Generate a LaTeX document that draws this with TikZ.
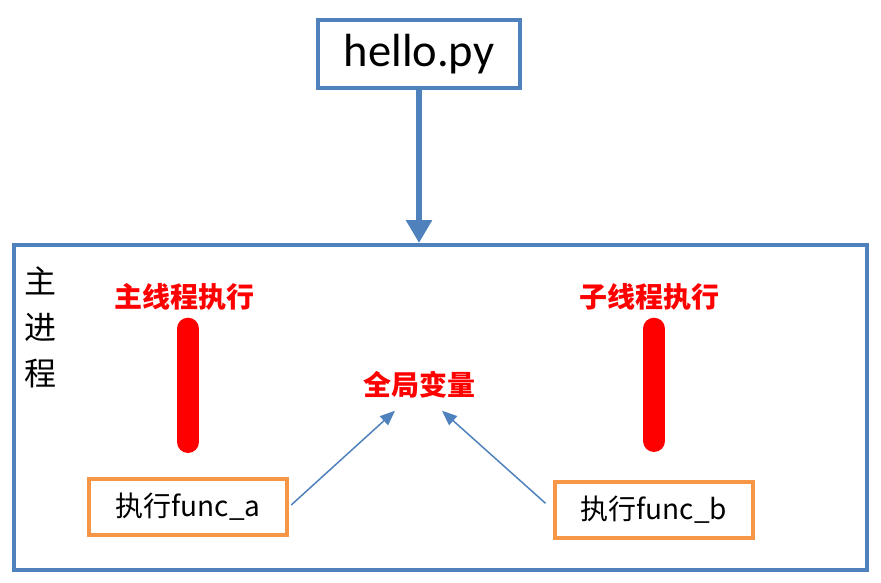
\documentclass[tikz,border=0pt]{standalone}
\usepackage{fontspec}
\setmainfont{Carlito}
\newfontfamily\cjk{Noto Sans CJK SC}
\usetikzlibrary{positioning,arrows.meta}
\definecolor{boxblue}{HTML}{4F81BD}
\definecolor{boxorange}{HTML}{F79646}

\begin{document}
\begin{tikzpicture}[x=1pt, y=-1pt,
    filebox/.style={draw=boxblue, line width=4pt, minimum width=202pt,
                    minimum height=68pt, font=\fontsize{46.5}{50}\selectfont},
    procbox/.style={draw=boxblue, line width=4pt, minimum width=853pt,
                    minimum height=325pt},
    funcbox/.style={draw=boxorange, line width=4pt, minimum width=198pt,
                    minimum height=56pt, font=\cjk\fontsize{28}{30}\selectfont},
    tag/.style={text=red, inner sep=0pt, font=\cjk\bfseries\fontsize{28}{30}\selectfont},
    thread/.style={red, line width=22pt, line cap=round},
    bigarrow/.style={boxblue, line width=6pt, -{Triangle[width=25pt,length=23pt]}},
    thinarrow/.style={boxblue, line width=1.5pt, -{Triangle[width=12pt,length=15pt]}}
]
\useasboundingbox (0,0) rectangle (881,583);
\node[filebox] (hello) at (419,54) {hello.py};
\node[procbox] (proc) at (440.5,407.5) {};
\node[align=center, inner sep=0pt, font=\cjk\fontsize{32}{46}\selectfont] (mainproc) at (40,327) {主\\进\\程};

\node[tag] (mainlbl) at (184,297) {主线程执行};
\node[tag] (sublbl) at (649,297) {子线程执行};
\node[tag, inner sep=12pt] (gvar) at (419,385) {全局变量};
\node[funcbox] (funca) at (188,507) {执行func\_a};
\node[funcbox] (funcb) at (654,510) {执行func\_b};

\draw[bigarrow] (hello.south) -- (proc.north -| hello.south);
\draw[thread, shorten <=18pt, shorten >=35pt] (mainlbl.south -| funca.north) -- (funca.north);
\draw[thread, shorten <=18pt, shorten >=39pt] (sublbl.south -| funcb.north) -- (funcb.north);
\draw[thinarrow, shorten <=3pt] (funca.east) -- ([xshift=-24pt]gvar.south);
\draw[thinarrow, shorten <=10pt] (funcb.west) -- ([xshift=23pt]gvar.south);
\end{tikzpicture}
\end{document}
